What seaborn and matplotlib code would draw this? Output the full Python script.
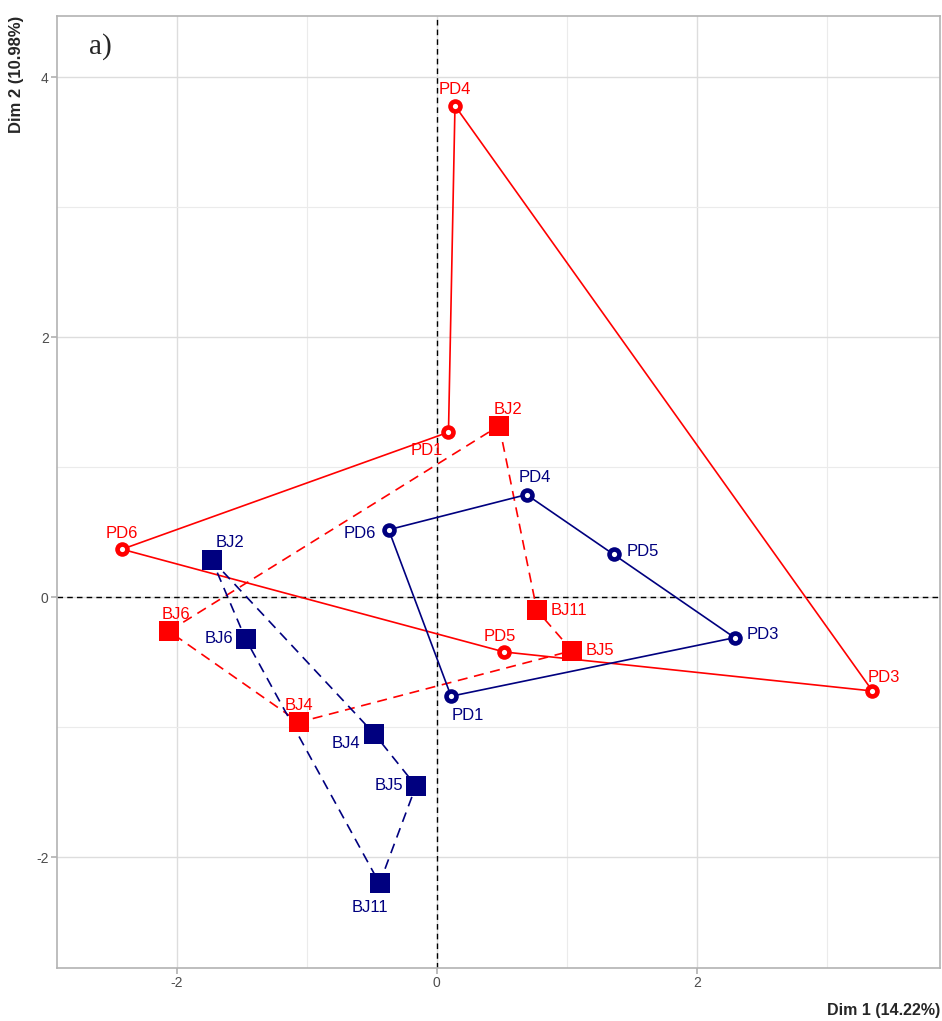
import numpy as np
import pandas as pd
import seaborn as sns
import matplotlib.pyplot as plt
from matplotlib.ticker import MultipleLocator

# red group
red_pd_names = ['PD1', 'PD4', 'PD3', 'PD5', 'PD6']
red_pd_x = [0.09, 0.14, 3.35, 0.52, -2.42]
red_pd_y = [1.27, 3.78, -0.72, -0.42, 0.37]
red_bj_names = ['BJ2', 'BJ11', 'BJ5', 'BJ4', 'BJ6']
red_bj_x = [0.48, 0.77, 1.04, -1.06, -2.06]
red_bj_y = [1.32, -0.10, -0.41, -0.96, -0.26]

# blue group
blue_pd_names = ['PD6', 'PD4', 'PD5', 'PD3', 'PD1']
blue_pd_x = [-0.37, 0.69, 1.36, 2.29, 0.11]
blue_pd_y = [0.52, 0.79, 0.33, -0.31, -0.76]
blue_bj_names = ['BJ2', 'BJ4', 'BJ5', 'BJ11', 'BJ6']
blue_bj_x = [-1.73, -0.48, -0.16, -0.44, -1.47]
blue_bj_y = [0.29, -1.05, -1.45, -2.20, -0.32]

RED = '#FF0000'
BLUE = '#00007F'

# label offsets in points (dx, dy, ha)
red_pd_off = {'PD1': (-4, -13, 'right'), 'PD4': (0, 12, 'center'), 'PD3': (8, 10, 'center'),
              'PD5': (-3, 11, 'center'), 'PD6': (0, 11, 'center')}
red_bj_off = {'BJ2': (6, 12, 'center'), 'BJ11': (10, 0, 'left'), 'BJ5': (10, 0, 'left'),
              'BJ4': (0, 12, 'center'), 'BJ6': (5, 12, 'center')}
blue_pd_off = {'PD6': (-9, -3, 'right'), 'PD4': (6, 12, 'center'), 'PD5': (9, 2, 'left'),
               'PD3': (9, 2, 'left'), 'PD1': (12, -14, 'center')}
blue_bj_off = {'BJ2': (3, 12, 'left'), 'BJ6': (-9, 0, 'right'), 'BJ4': (-10, -7, 'right'),
               'BJ5': (-9, 0, 'right'), 'BJ11': (-7, -17, 'center')}

sns.set_theme(style='whitegrid')
plt.rcParams['font.family'] = ['Liberation Sans', 'DejaVu Sans']
plt.rcParams['axes.unicode_minus'] = False

fig = plt.figure(figsize=(9.42, 10.21), dpi=100)
ax = fig.add_axes([0.0605, 0.0519, 0.9375, 0.9324])


def closed(xs, ys):
    return pd.DataFrame({'x': list(xs) + [xs[0]], 'y': list(ys) + [ys[0]],
                         'o': range(len(xs) + 1)})


ax.axhline(0, color='black', lw=1, ls=(0, (4, 3)), zorder=1)
ax.axvline(0, color='black', lw=1, ls=(0, (4, 3)), zorder=1)

sns.lineplot(data=closed(red_pd_x, red_pd_y), x='x', y='y', sort=False, estimator=None,
             color=RED, lw=1.2, ax=ax, zorder=2)
sns.lineplot(data=closed(red_bj_x, red_bj_y), x='x', y='y', sort=False, estimator=None,
             color=RED, lw=1.2, ls=(0, (6, 4)), ax=ax, zorder=2)
sns.lineplot(data=closed(blue_pd_x, blue_pd_y), x='x', y='y', sort=False, estimator=None,
             color=BLUE, lw=1.2, ax=ax, zorder=2)
sns.lineplot(data=closed(blue_bj_x, blue_bj_y), x='x', y='y', sort=False, estimator=None,
             color=BLUE, lw=1.2, ls=(0, (6, 4)), ax=ax, zorder=2)

for xs, ys, c in [(red_pd_x, red_pd_y, RED), (blue_pd_x, blue_pd_y, BLUE)]:
    sns.scatterplot(x=xs, y=ys, marker='o', s=110, color=c, edgecolor=c,
                    linewidth=0, ax=ax, zorder=4)
    sns.scatterplot(x=xs, y=ys, marker='o', s=14, facecolor='white', edgecolor='white',
                    linewidth=0, ax=ax, zorder=4.5)
for xs, ys, c in [(red_bj_x, red_bj_y, RED), (blue_bj_x, blue_bj_y, BLUE)]:
    sns.scatterplot(x=xs, y=ys, marker='s', s=190, color=c, edgecolor=c,
                    linewidth=0, ax=ax, zorder=4)

for names, xs, ys, off, c in [(red_pd_names, red_pd_x, red_pd_y, red_pd_off, RED),
                              (red_bj_names, red_bj_x, red_bj_y, red_bj_off, RED),
                              (blue_pd_names, blue_pd_x, blue_pd_y, blue_pd_off, BLUE),
                              (blue_bj_names, blue_bj_x, blue_bj_y, blue_bj_off, BLUE)]:
    for n, x, y in zip(names, xs, ys):
        dx, dy, ha = off[n]
        ax.annotate(n, (x, y), xytext=(dx, dy), textcoords='offset points',
                    ha=ha, va='center', color=c, fontsize=12, zorder=5)

ax.set_xlim(-2.92, 3.87)
ax.set_ylim(-2.85, 4.47)
ax.xaxis.set_major_locator(MultipleLocator(2))
ax.yaxis.set_major_locator(MultipleLocator(2))
ax.xaxis.set_minor_locator(MultipleLocator(1))
ax.yaxis.set_minor_locator(MultipleLocator(1))
ax.grid(which='major', color='#DDDDDD', lw=1.0)
ax.grid(which='minor', color='#EBEBEB', lw=0.8)
ax.tick_params(axis='both', which='major', length=4, color='#B3B3B3', labelcolor='#4D4D4D',
               labelsize=10, pad=2, bottom=True, left=True)
for sp in ax.spines.values():
    sp.set_color('#B3B3B3')
    sp.set_linewidth(1.2)

ax.set_xlabel('Dim 1 (14.22%)', fontsize=11.5, fontweight='bold', loc='right', labelpad=9)
ax.set_ylabel('Dim 2 (10.98%)', fontsize=12, fontweight='bold', loc='top', labelpad=9)

ax.text(0.036, 0.968, 'a)', transform=ax.transAxes, fontsize=21, family='Liberation Serif',
        ha='left', va='center')

fig.savefig('out.png', dpi=100)
